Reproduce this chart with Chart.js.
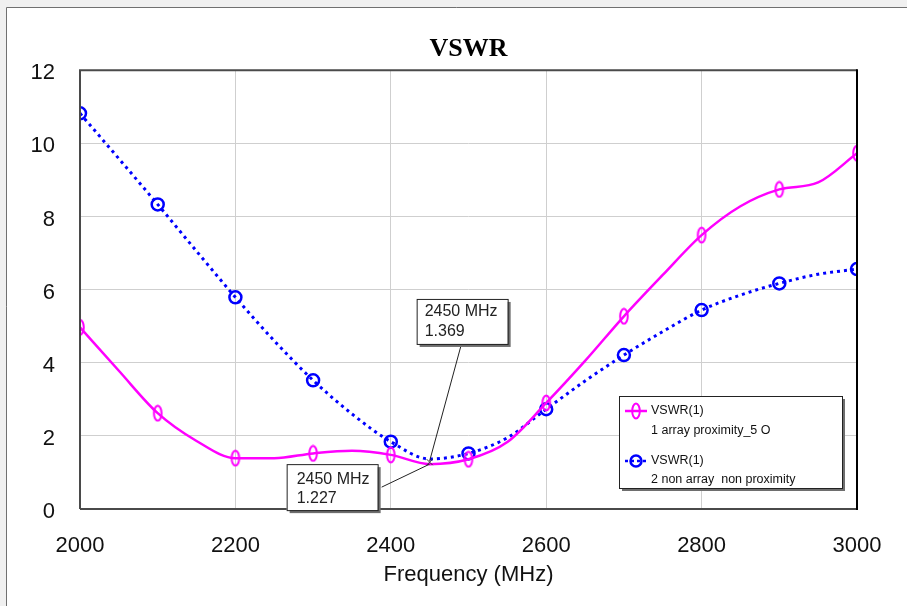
<!DOCTYPE html>
<html>
<head>
<meta charset="utf-8">
<script src="https://cdn.jsdelivr.net/npm/chart.js@4.4.1/dist/chart.umd.min.js"></script>
<style>
  html, body { margin: 0; padding: 0; background: #f0f0f0; }
  #wrap { width: 907px; height: 606px; }
</style>
</head>
<body>
<div id="wrap"><canvas id="chart" width="907" height="606"></canvas></div>
<script>
// frequencies (MHz) of the simulated sweep
const freqs = [2000, 2050, 2100, 2150, 2200, 2250, 2300, 2350, 2400, 2450, 2500,
  2550, 2600, 2650, 2700, 2750, 2800, 2850, 2900, 2950, 3000];
// 1 array proximity_5 O
const vswrArray = [4.97, 3.78, 2.62, 1.86, 1.39, 1.39, 1.52, 1.59, 1.48, 1.227, 1.36,
  1.83, 2.9, 4.05, 5.27, 6.4, 7.49, 8.28, 8.74, 8.93, 9.73];
// 2 non array  non proximity
const vswrNonArray = [10.82, 9.58, 8.33, 7.05, 5.79, 4.6, 3.52, 2.6, 1.84, 1.369, 1.52,
  1.95, 2.73, 3.5, 4.21, 4.85, 5.44, 5.85, 6.17, 6.42, 6.56];
const seriesNames = ['1 array proximity_5 O', '2 non array  non proximity'];
const markerFreq = 2450;
const markerValues = [1.227, 1.369];

const FONT = "'Liberation Sans', Arial, sans-serif";
const MAGENTA = '#ff00ff';
const BLUE = '#0000ff';

function ellipseMarker(color) {
  const cv = document.createElement('canvas');
  cv.width = 12; cv.height = 18;
  const g = cv.getContext('2d');
  g.strokeStyle = color;
  g.lineWidth = 2;
  g.beginPath();
  g.ellipse(6, 9, 3.8, 7.5, 0, 0, Math.PI * 2);
  g.stroke();
  return cv;
}
const diamondImg = ellipseMarker(MAGENTA);

const toPoints = (vals) => freqs.map((f, i) => ({ x: f, y: vals[i] }));
const every100 = (r) => (ctx) => (ctx.raw && ctx.raw.x % 100 === 0 ? r : 0);

function drawLegendIcon(c, x, y, color, dashed) {
  c.save();
  c.strokeStyle = color;
  c.lineWidth = 2.5;
  if (dashed) c.setLineDash([3, 3]);
  c.beginPath(); c.moveTo(x - 11, y); c.lineTo(x + 11, y); c.stroke();
  c.setLineDash([]);
  if (dashed) {
    c.beginPath(); c.arc(x, y, 5.5, 0, Math.PI * 2); c.stroke();
  } else {
    c.drawImage(diamondImg, x - 6, y - 9);
  }
  c.restore();
}

function drawBox(c, x, y, w, h) {
  c.fillStyle = '#6e6e6e';
  c.fillRect(x + 3, y + 3, w, h);
  c.fillStyle = '#fff';
  c.fillRect(x, y, w, h);
  c.strokeStyle = '#222';
  c.lineWidth = 1;
  c.strokeRect(x + 0.5, y + 0.5, w, h);
}

const decorations = {
  id: 'decorations',
  beforeDraw(chart) {
    const c = chart.ctx;
    c.save();
    c.fillStyle = '#f0f0f0';
    c.fillRect(0, 0, chart.width, chart.height);
    c.fillStyle = '#fff';
    c.fillRect(6, 7, chart.width, chart.height);
    c.strokeStyle = '#707070';
    c.lineWidth = 1;
    c.beginPath();
    c.moveTo(6.5, chart.height); c.lineTo(6.5, 7.5); c.lineTo(chart.width, 7.5);
    c.stroke();
    c.restore();
  },
  afterDraw(chart) {
    const c = chart.ctx;
    const a = chart.chartArea;
    const xs = chart.scales.x, ys = chart.scales.y;
    c.save();
    // plot frame
    c.strokeStyle = '#4a4a4a';
    c.lineWidth = 2;
    c.beginPath();
    c.moveTo(a.left, a.bottom); c.lineTo(a.left, a.top); c.lineTo(a.right, a.top);
    c.moveTo(a.left, a.bottom); c.lineTo(a.right, a.bottom);
    c.stroke();
    c.strokeStyle = '#000';
    c.beginPath(); c.moveTo(a.right, a.top - 1); c.lineTo(a.right, a.bottom + 1); c.stroke();

    // marker readouts at 2450 MHz
    const px = xs.getPixelForValue(markerFreq);
    const pyLow = ys.getPixelForValue(markerValues[0]);
    const pyHigh = ys.getPixelForValue(markerValues[1]);
    c.font = '16px ' + FONT;
    c.textBaseline = 'middle';
    c.textAlign = 'left';

    // upper box (non array)
    const b1 = { x: px - 13, y: pyHigh - 160, w: 91, h: 45 };
    c.strokeStyle = '#222'; c.lineWidth = 1;
    c.beginPath(); c.moveTo(b1.x + 44, b1.y + b1.h + 3); c.lineTo(px, pyHigh + 2); c.stroke();
    drawBox(c, b1.x, b1.y, b1.w, b1.h);
    c.fillStyle = '#222';
    c.fillText(markerFreq + ' MHz', b1.x + 8, b1.y + 13);
    c.fillText(markerValues[1].toFixed(3), b1.x + 8, b1.y + 33);

    // lower box (array)
    const b2 = { x: px - 143, y: pyLow, w: 91, h: 46 };
    c.strokeStyle = '#222'; c.lineWidth = 1;
    c.beginPath(); c.moveTo(b2.x + b2.w + 4, b2.y + 23); c.lineTo(px, pyLow); c.stroke();
    drawBox(c, b2.x, b2.y, b2.w, b2.h);
    c.fillStyle = '#222';
    c.fillText(markerFreq + ' MHz', b2.x + 10, b2.y + 15);
    c.fillText(markerValues[0].toFixed(3), b2.x + 10, b2.y + 34);

    // small x at marker
    c.strokeStyle = '#333'; c.lineWidth = 1;
    c.beginPath();
    c.moveTo(px - 3, pyLow - 5); c.lineTo(px + 3, pyLow + 1);
    c.moveTo(px + 3, pyLow - 5); c.lineTo(px - 3, pyLow + 1);
    c.stroke();

    // legend box
    const lg = { x: a.right - 238, y: a.bottom - 113, w: 223, h: 92 };
    drawBox(c, lg.x, lg.y, lg.w, lg.h);
    c.font = '12.5px ' + FONT;
    c.fillStyle = '#111';
    drawLegendIcon(c, lg.x + 17, lg.y + 15, MAGENTA, false);
    c.fillText('VSWR(1)', lg.x + 32, lg.y + 15);
    c.fillText(seriesNames[0], lg.x + 32, lg.y + 35);
    drawLegendIcon(c, lg.x + 17, lg.y + 65, BLUE, true);
    c.fillText('VSWR(1)', lg.x + 32, lg.y + 65);
    c.fillText(seriesNames[1], lg.x + 32, lg.y + 84);
    c.restore();
  }
};

new Chart(document.getElementById('chart'), {
  type: 'line',
  data: {
    datasets: [
      {
        label: 'VSWR(1) ' + seriesNames[0],
        data: toPoints(vswrArray),
        borderColor: MAGENTA,
        borderWidth: 2.5,
        cubicInterpolationMode: 'monotone',
        pointStyle: diamondImg,
        pointRadius: every100(6),
        pointHoverRadius: every100(6),
        fill: false
      },
      {
        label: 'VSWR(1) ' + seriesNames[1],
        data: toPoints(vswrNonArray),
        borderColor: BLUE,
        borderWidth: 3,
        borderDash: [3, 4],
        cubicInterpolationMode: 'monotone',
        pointStyle: 'circle',
        pointRadius: every100(6),
        pointHoverRadius: every100(6),
        pointBorderWidth: 2.5,
        pointBorderColor: BLUE,
        pointBackgroundColor: 'rgba(0,0,0,0)',
        fill: false
      }
    ]
  },
  options: {
    animation: false,
    responsive: false,
    layout: { padding: { left: 0, right: 50, top: 0, bottom: 0 } },
    plugins: {
      legend: { display: false },
      tooltip: { enabled: false },
      title: {
        display: true,
        text: 'VSWR',
        fullSize: false,
        color: '#000',
        font: { family: "'Liberation Serif', 'Times New Roman', serif", size: 26, weight: 'bold' },
        padding: { top: 34, bottom: 5 }
      }
    },
    scales: {
      x: {
        type: 'linear',
        min: 2000,
        max: 3000,
        afterFit: (s) => { s.height = 97; },
        ticks: {
          stepSize: 200,
          padding: 24,
          color: '#111',
          font: { family: FONT, size: 22 },
          callback: (v) => String(v)
        },
        grid: { color: '#cfcfcf', lineWidth: 1, drawTicks: false },
        border: { display: false },
        title: {
          display: true,
          text: 'Frequency (MHz)',
          color: '#111',
          font: { family: FONT, size: 22 },
          padding: { top: 0, bottom: 18 }
        }
      },
      y: {
        min: 0,
        max: 12,
        afterFit: (s) => { s.width = 80; },
        ticks: {
          stepSize: 2,
          padding: 25,
          labelOffset: 3,
          color: '#111',
          font: { family: FONT, size: 22 },
          callback: (v) => String(v)
        },
        grid: { color: '#cfcfcf', lineWidth: 1, drawTicks: false },
        border: { display: false }
      }
    }
  },
  plugins: [decorations]
});
</script>
</body>
</html>
